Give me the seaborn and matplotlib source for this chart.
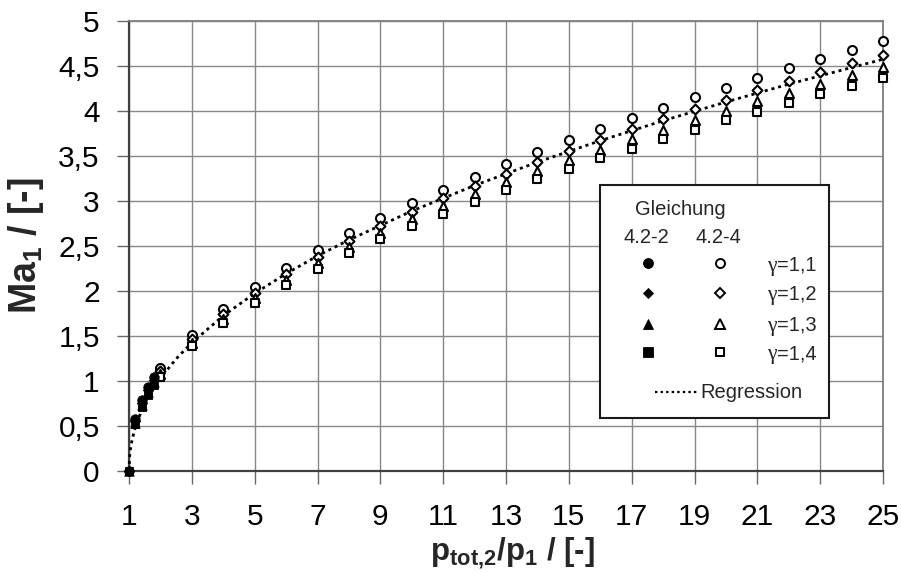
import matplotlib
matplotlib.use("Agg")
import matplotlib.pyplot as plt
import seaborn as sns
import pandas as pd
from matplotlib.lines import Line2D
from matplotlib.patches import Rectangle

# ---------------- data ----------------
gammas = ["1,1", "1,2", "1,3", "1,4"]

# Gleichung 4.2-2 (filled markers)
p_sub = [1.0, 1.2, 1.4, 1.6, 1.8]
ma_sub_g11 = [0.0, 0.578, 0.788, 0.934, 1.048]
ma_sub_g12 = [0.0, 0.556, 0.760, 0.903, 1.015]
ma_sub_g13 = [0.0, 0.535, 0.734, 0.874, 0.984]
ma_sub_g14 = [0.0, 0.517, 0.710, 0.848, 0.956]

# Gleichung 4.2-4 (open markers)
p_sup = [2, 3, 4, 5, 6, 7, 8, 9, 10, 11, 12, 13, 14, 15, 16, 17, 18, 19, 20, 21, 22, 23, 24, 25]
ma_sup_g11 = [1.143, 1.511, 1.798, 2.043, 2.260, 2.458, 2.641, 2.812, 2.974, 3.126, 3.272, 3.411,
              3.545, 3.674, 3.799, 3.920, 4.037, 4.151, 4.261, 4.369, 4.474, 4.577, 4.678, 4.776]
ma_sup_g12 = [1.108, 1.465, 1.742, 1.979, 2.190, 2.381, 2.558, 2.724, 2.880, 3.028, 3.169, 3.303,
              3.433, 3.558, 3.678, 3.795, 3.908, 4.019, 4.126, 4.230, 4.332, 4.432, 4.529, 4.624]
ma_sup_g13 = [1.076, 1.424, 1.692, 1.922, 2.126, 2.312, 2.484, 2.644, 2.796, 2.939, 3.076, 3.207,
              3.332, 3.453, 3.570, 3.684, 3.794, 3.900, 4.004, 4.106, 4.204, 4.301, 4.396, 4.488]
ma_sup_g14 = [1.047, 1.386, 1.647, 1.871, 2.069, 2.250, 2.417, 2.573, 2.720, 2.859, 2.992, 3.119,
              3.242, 3.359, 3.473, 3.583, 3.690, 3.794, 3.895, 3.994, 4.090, 4.184, 4.275, 4.365]

# Regression curve (dotted)
reg_p = [1, 1.02, 1.05, 1.1, 1.2, 1.4, 1.6, 1.8, 2, 2.5, 3, 4, 5, 6, 7, 8, 10, 12, 14, 16, 18, 20, 22, 25]
reg_ma = [0.0, 0.164, 0.253, 0.350, 0.484, 0.670, 0.810, 0.928, 1.030, 1.246, 1.426, 1.725, 1.974,
          2.192, 2.390, 2.567, 2.888, 3.173, 3.432, 3.670, 3.892, 4.100, 4.298, 4.575]

x_ticks = [1, 3, 5, 7, 9, 11, 13, 15, 17, 19, 21, 23, 25]
y_ticks = [0, 0.5, 1, 1.5, 2, 2.5, 3, 3.5, 4, 4.5, 5]
y_tick_labels = ["0", "0,5", "1", "1,5", "2", "2,5", "3", "3,5", "4", "4,5", "5"]

df_sub = pd.DataFrame({
    "p": p_sub * 4,
    "Ma": ma_sub_g11 + ma_sub_g12 + ma_sub_g13 + ma_sub_g14,
    "gamma": [g for g in gammas for _ in p_sub],
})
df_sup = pd.DataFrame({
    "p": p_sup * 4,
    "Ma": ma_sup_g11 + ma_sup_g12 + ma_sup_g13 + ma_sup_g14,
    "gamma": [g for g in gammas for _ in p_sup],
})

# ---------------- style ----------------
sns.set_theme(style="white")
plt.rcParams["font.family"] = ["Liberation Sans", "DejaVu Sans"]
plt.rcParams["mathtext.fontset"] = "custom"
plt.rcParams["mathtext.rm"] = "Liberation Sans"
plt.rcParams["mathtext.bf"] = "Liberation Sans:bold"
plt.rcParams["mathtext.it"] = "Liberation Sans:italic"

markers = {"1,1": "o", "1,2": "D", "1,3": "^", "1,4": "s"}
msize = {"1,1": 42, "1,2": 25, "1,3": 42, "1,4": 36}

fig = plt.figure(figsize=(9.01, 5.72), dpi=100)
ax = fig.add_axes([129 / 901, 1 - 471 / 572, 754 / 901, 450 / 572])
ax.set_facecolor("white")

# regression line
sns.lineplot(x=reg_p, y=reg_ma, ax=ax, color="black", linewidth=2.0,
             linestyle=(0, (1.1, 1.4)), zorder=3, clip_on=False)

# open markers (Gleichung 4.2-4)
for g in gammas:
    sns.scatterplot(data=df_sup[df_sup["gamma"] == g], x="p", y="Ma", ax=ax,
                    marker=markers[g], s=msize[g], color="black",
                    facecolor="white", edgecolor="black", linewidth=1.5,
                    zorder=4, clip_on=False, legend=False)

# filled markers (Gleichung 4.2-2)
for g in gammas:
    sns.scatterplot(data=df_sub[df_sub["gamma"] == g], x="p", y="Ma", ax=ax,
                    marker=markers[g], s=msize[g] * 1.1, color="black",
                    edgecolor="black", linewidth=0.6,
                    zorder=5, clip_on=False, legend=False)

# axes
ax.set_xlim(1, 25)
ax.set_ylim(0, 5)
ax.set_xticks(x_ticks)
ax.set_xticklabels([str(t) for t in x_ticks])
ax.set_yticks(y_ticks)
ax.set_yticklabels(y_tick_labels)
ax.set_axisbelow(True)
ax.grid(True, color="#878787", linewidth=1.0)
ax.tick_params(axis="both", direction="out", length=9, width=1.0, color="#666666",
               labelsize=21.5, labelcolor="black")
ax.tick_params(axis="y", pad=12)
ax.tick_params(axis="x", pad=14, bottom=True)
ax.tick_params(axis="y", left=True)
for side in ["left", "bottom"]:
    ax.spines[side].set_color("#404040")
    ax.spines[side].set_linewidth(1.6)
for side in ["top", "right"]:
    ax.spines[side].set_color("#7f7f7f")
    ax.spines[side].set_linewidth(1.3)
    ax.spines[side].set_visible(True)

ax.set_xlabel(r"p$_\mathbf{tot{,}2}$/p$_\mathbf{1}$ / [-]", fontsize=22.5, fontweight="bold",
              labelpad=3, x=0.509)
ax.set_ylabel(r"Ma$_\mathbf{1}$ / [-]", fontsize=27, fontweight="bold", labelpad=9)

# ---------------- legend (manual box) ----------------
T = ax.transAxes
ax.add_patch(Rectangle((0.6247, 0.1178), 0.3037, 0.5178, transform=T, facecolor="white",
                       edgecolor="#1a1a1a", linewidth=1.5, zorder=6, clip_on=False))
fs = 14.5
ax.text(0.671, 0.5689, "Gleichung", transform=T, fontsize=fs, va="baseline", ha="left", zorder=7)
ax.text(0.6857, 0.506, "4.2-2", transform=T, fontsize=fs, va="baseline", ha="center", zorder=7)
ax.text(0.7818, 0.506, "4.2-4", transform=T, fontsize=fs, va="baseline", ha="center", zorder=7)
row_marker_y = [0.4615, 0.3948, 0.3267, 0.2637]
row_text_y = [0.4451, 0.3800, 0.3118, 0.2482]
for g, ym, yt in zip(gammas, row_marker_y, row_text_y):
    ms = (msize[g] ** 0.5)
    ax.add_line(Line2D([0.6883], [ym], transform=T, marker=markers[g], markersize=ms * 1.1,
                       color="black", markerfacecolor="black", markeredgewidth=0.6,
                       linestyle="none", zorder=7, clip_on=False))
    ax.add_line(Line2D([0.7838], [ym], transform=T, marker=markers[g], markersize=ms,
                       color="black", markerfacecolor="white", markeredgewidth=1.4,
                       linestyle="none", zorder=7, clip_on=False))
    ax.text(0.8594, yt, "\u03b3", transform=T, fontsize=fs + 1, va="baseline", ha="right",
            family=["Liberation Serif", "DejaVu Serif"], zorder=7)
    ax.text(0.8594, yt, "=" + g, transform=T, fontsize=fs, va="baseline", ha="left", zorder=7)
ax.add_line(Line2D([0.6976, 0.7533], [0.1763, 0.1763], transform=T, color="black", linewidth=1.6,
                   linestyle=(0, (1.1, 1.4)), zorder=7, clip_on=False))
ax.text(0.7573, 0.1615, "Regression", transform=T, fontsize=fs, va="baseline", ha="left", zorder=7)

fig.savefig("out.png", dpi=100, facecolor="white")
